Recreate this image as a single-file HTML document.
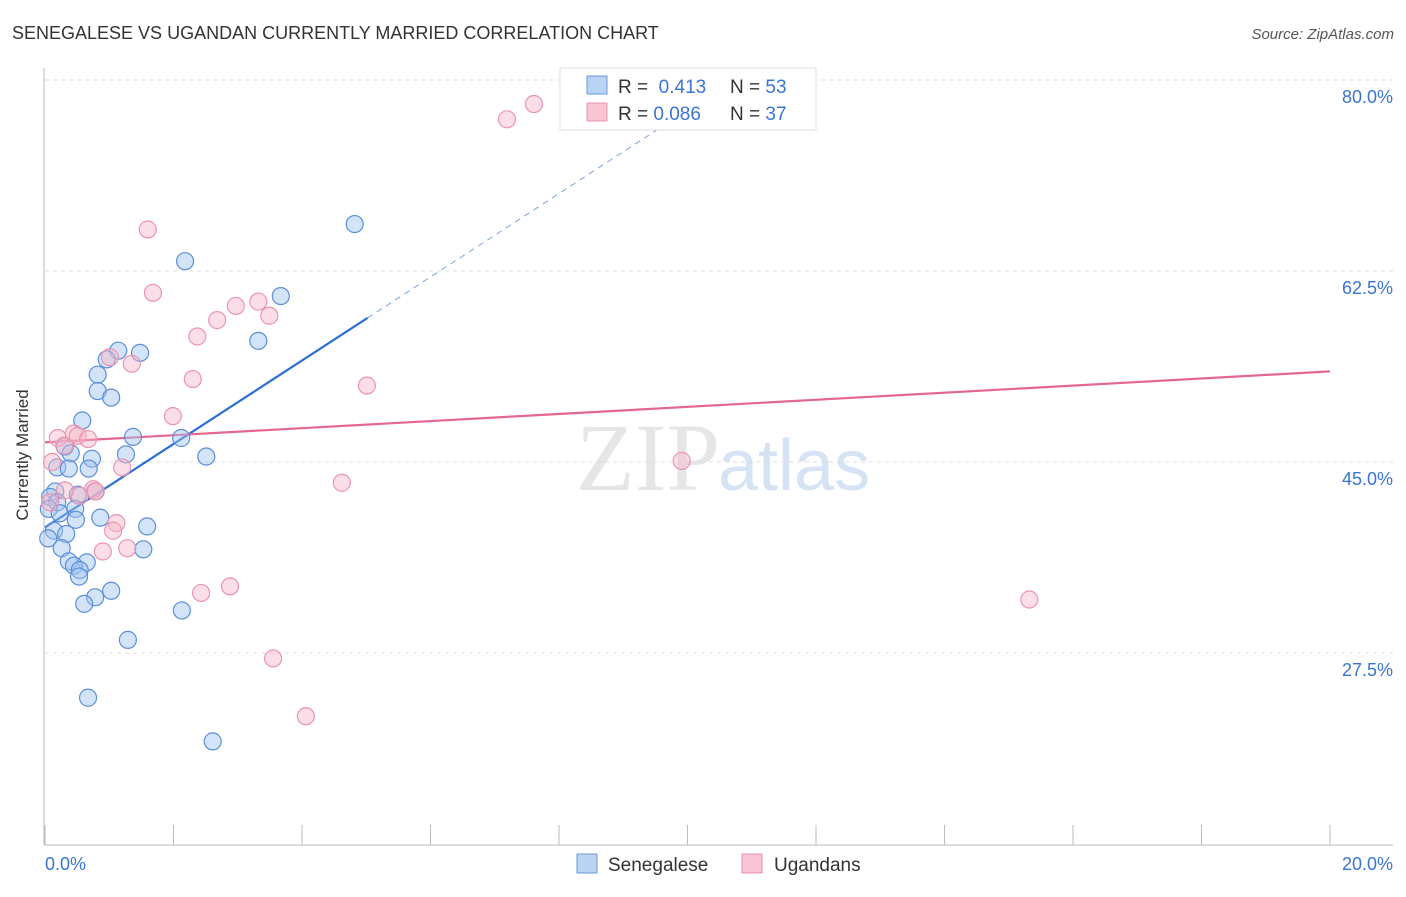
<!DOCTYPE html>
<html><head><meta charset="utf-8"><style>
body{margin:0;background:#fff;font-family:"Liberation Sans",sans-serif}
</style></head><body>
<svg width="1406" height="892" xmlns="http://www.w3.org/2000/svg" id="chart">
<text x="12" y="39" font-size="18" fill="#333">SENEGALESE VS UGANDAN CURRENTLY MARRIED CORRELATION CHART</text>
<text x="1394" y="39" font-size="15" fill="#555" font-style="italic" text-anchor="end">Source: ZipAtlas.com</text>
<text x="720" y="490" font-size="96" fill="#e6e6e6" text-anchor="end" font-family="Liberation Serif">ZIP</text>
<text x="718" y="490" font-size="72" fill="#d6e3f5">atlas</text>
<g id="grid"></g><g id="axes"></g><g id="lines"></g><g id="pts"></g>
<text x="28" y="455" font-size="17" fill="#333" text-anchor="middle" transform="rotate(-90 28 455)">Currently Married</text>
<g>
<rect x="560" y="68" width="256" height="62" fill="#fff" stroke="#ddd"/>
<rect x="587" y="76" width="20" height="18" fill="#b9d3f3" stroke="#6a9ad8"/>
<rect x="587" y="103" width="20" height="18" fill="#f9c6d5" stroke="#e891ab"/>
<text x="618" y="93" font-size="19" fill="#333">R = <tspan fill="#3a74d4">&#160;0.413</tspan><tspan x="730">N = </tspan><tspan fill="#3a74d4">53</tspan></text>
<text x="618" y="120" font-size="19" fill="#333">R = <tspan fill="#3a74d4">0.086</tspan><tspan x="730">N = </tspan><tspan fill="#3a74d4">37</tspan></text>
</g>
<g>
<rect x="577" y="854" width="20" height="19" fill="#b9d3f3" stroke="#6a9ad8"/>
<text x="608" y="871" font-size="19" fill="#333">Senegalese</text>
<rect x="742" y="854" width="20" height="19" fill="#f9c6d5" stroke="#e891ab"/>
<text x="774" y="871" font-size="19" fill="#333">Ugandans</text>
</g>
</svg>
<script>
const yTicks=[80,62.5,45,27.5];
const yTickLabels=["80.0%","62.5%","45.0%","27.5%"];
const xTickLabels=["0.0%","20.0%"];
const blueX=[4.82,2.18,3.67,3.32,1.14,1.48,0.96,0.82,0.82,1.03,0.58,1.37,2.12,0.31,0.40,1.26,2.51,0.73,0.19,0.37,0.68,0.16,0.08,0.78,0.51,0.19,0.06,0.47,0.23,0.48,0.86,1.59,0.14,0.33,0.05,0.26,1.53,0.37,0.65,0.45,0.54,0.53,1.03,0.78,0.61,2.13,1.29,0.67,2.61];
const blueY=[66.8,63.4,60.2,56.1,55.2,55.0,54.4,53.0,51.5,50.9,48.8,47.3,47.2,46.4,45.8,45.7,45.5,45.3,44.5,44.4,44.4,42.3,41.8,42.3,42.0,41.3,40.7,40.7,40.3,39.7,39.9,39.1,38.7,38.4,38.0,37.1,37.0,35.9,35.8,35.5,35.1,34.5,33.2,32.6,32.0,31.4,28.7,23.4,19.4];
const pinkX=[7.61,7.19,1.60,1.68,3.32,2.97,3.49,2.68,2.37,1.35,1.01,2.30,5.01,1.99,0.45,0.51,0.67,0.20,0.30,1.20,9.91,0.75,0.79,0.54,0.31,4.62,0.08,1.11,1.06,1.28,0.90,2.88,2.43,15.32,3.55,4.06,0.11];
const pinkY=[77.8,76.4,66.3,60.5,59.7,59.3,58.4,58.0,56.5,54.0,54.6,52.6,52.0,49.2,47.6,47.4,47.1,47.2,46.5,44.5,45.1,42.5,42.3,41.9,42.4,43.1,41.3,39.4,38.7,37.1,36.8,33.6,33.0,32.4,27.0,21.7,45.0];
const blueTrend=[39.0,58.2];const blueTrendX=[0,5.02,10];
const pinkTrend=[46.8,53.3];
const NS="http://www.w3.org/2000/svg";
const X=v=>45+v*64.25, Y=v=>80+(80-v)*10.914;
function mk(t,a,p){const e=document.createElementNS(NS,t);for(const k in a)e.setAttribute(k,a[k]);document.getElementById(p).appendChild(e);return e;}
yTicks.forEach((t,i)=>{
 const l=mk('line',{x1:45,x2:1393,y1:Y(t),y2:Y(t),stroke:'#ddd','stroke-dasharray':'4,4'},'grid');
 
 
 const tx=mk('text',{x:1393,y:Y(t)+23,'font-size':18,fill:'#3a74d4','text-anchor':'end'},'grid');
 tx.textContent=yTickLabels[i];
 
 
});
mk('line',{x1:44,x2:44,y1:68,y2:845,stroke:'#bbb'},'axes');
mk('line',{x1:44,x2:1393,y1:845,y2:845,stroke:'#bbb'},'axes');
for(let i=0;i<=10;i++){const l=mk('line',{x1:X(i*2),x2:X(i*2),y1:825,y2:845,stroke:'#bbb'},'axes');
 
 }
[[0,'start',45],[20,'end',1393]].forEach((d,i)=>{const t=mk('text',{x:d[2],y:870,'font-size':18,fill:'#3a74d4','text-anchor':d[1]},'axes');t.textContent=xTickLabels[i];
 
 });
const slope=(blueTrend[1]-blueTrend[0])/blueTrendX[1];
const b1=mk('line',{x1:X(0),y1:Y(blueTrend[0]),x2:X(blueTrendX[1]),y2:Y(blueTrend[1]),stroke:'#2b6fd6','stroke-width':2.2},'lines');


const b2=mk('line',{x1:X(blueTrendX[1]),y1:Y(blueTrend[1]),x2:X(blueTrendX[2]),y2:Y(blueTrend[0]+slope*blueTrendX[2]),stroke:'#7aa3e0','stroke-width':1,'stroke-dasharray':'6,5'},'lines');


const p1=mk('line',{x1:X(0),y1:Y(pinkTrend[0]),x2:X(20),y2:Y(pinkTrend[1]),stroke:'#e4678f','stroke-width':2.2},'lines');


blueX.forEach((x,i)=>{const c=mk('circle',{cx:X(x),cy:Y(blueY[i]),r:8.5,fill:'rgba(160,196,240,0.45)',stroke:'#5b8fd9','stroke-width':1.2},'pts');
 
 });
pinkX.forEach((x,i)=>{const c=mk('circle',{cx:X(x),cy:Y(pinkY[i]),r:8.5,fill:'rgba(246,182,200,0.45)',stroke:'#ec94b0','stroke-width':1.2},'pts');
 
 });
</script>
</body></html>
